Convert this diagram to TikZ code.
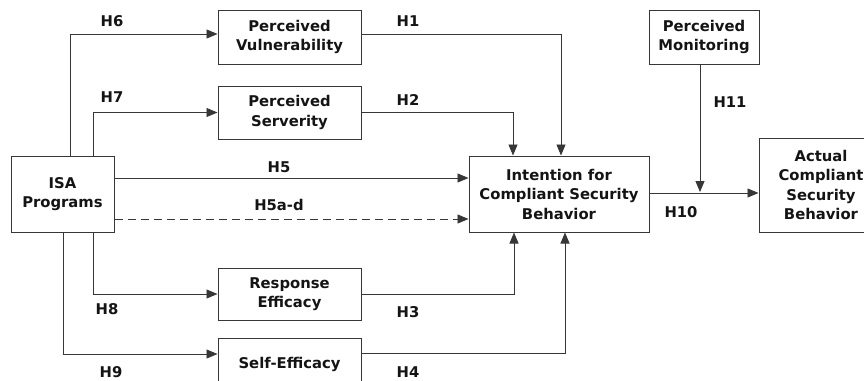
\documentclass[tikz,border=0pt]{standalone}
\usepackage{fontspec}
\setmainfont{DejaVu Sans}
\usetikzlibrary{arrows.meta}
\definecolor{linec}{RGB}{55,55,55}
\definecolor{textc}{RGB}{20,20,20}
\begin{document}
\begin{tikzpicture}[x=1pt,y=-1pt,
  box/.style={draw=linec, line width=1pt, fill=white, align=center, inner sep=2pt,
    font=\fontsize{14.8}{19.5}\selectfont\bfseries, text=textc},
  hyp/.style={font=\fontsize{14.8}{19.5}\selectfont\bfseries, text=textc, inner sep=0pt},
  arr/.style={draw=linec, line width=0.9pt, -{Triangle[length=11pt,width=9pt]}},
]
\useasboundingbox (0,0) rectangle (864,380);
\fill[white] (0,0) rectangle (864,380);

% constructs
\node[box, minimum width=103, minimum height=76] (isa) at (62.5,194) {ISA\\Programs};
\node[box, minimum width=143, minimum height=54] (pv) at (289.5,37) {Perceived\\Vulnerability};
\node[box, minimum width=143, minimum height=53] (ps) at (289.5,112.5) {Perceived\\Serverity};
\node[box, minimum width=143, minimum height=52] (re) at (289.5,294) {Response\\Efficacy};
\node[box, minimum width=143, minimum height=52] (se) at (289.5,364) {Self-Efficacy};
\node[box, minimum width=180, minimum height=76] (int) at (559,194) {Intention for\\Compliant Security\\Behavior};
\node[box, minimum width=110, minimum height=54] (pm) at (704,37) {Perceived\\Monitoring};
\node[box, minimum width=124, minimum height=94] (act) at (821,185) {Actual\\Compliant\\Security\\Behavior};

% paths from ISA programs
\draw[arr] ([xshift=7.5pt]isa.north) |- ([yshift=3pt]pv.west);
\draw[arr] ([xshift=30.5pt]isa.north) |- (ps.west);
\draw[arr] ([xshift=30.5pt]isa.south) |- (re.west);
\draw[arr] ([xshift=0.5pt]isa.south) |- ([yshift=10pt]se.west);
\draw[arr] ([yshift=16pt]isa.east) -- ([yshift=16pt]int.west);
\draw[arr, dash pattern=on 8pt off 5pt] ([yshift=-25pt]isa.east) -- ([yshift=-25pt]int.west);

% paths into intention
\draw[arr] ([yshift=3pt]pv.east) -| ([xshift=2pt]int.north);
\draw[arr] (ps.east) -| ([xshift=-46pt]int.north);
\draw[arr] (re.east) -| ([xshift=-45pt]int.south);
\draw[arr] ([yshift=11pt]se.east) -| ([xshift=6pt]int.south);

% intention to behaviour, moderated by monitoring
\draw[arr] ([yshift=1pt]int.east) -- ([yshift=-8pt]act.west);
\coordinate (h11end) at (700,192);
\draw[arr] (pm.south -| h11end) -- (h11end);

% hypothesis labels
\node[hyp] (h6) at (112,21) {H6};
\node[hyp] (h7) at (112,97) {H7};
\node[hyp] (h1) at (408,21) {H1};
\node[hyp] (h2) at (408,100) {H2};
\node[hyp] (h5) at (279,167) {H5};
\node[hyp] (h5ad) at (279,205) {H5a-d};
\node[hyp] (h8) at (107,309) {H8};
\node[hyp] (h9) at (111,372) {H9};
\node[hyp] (h3) at (408,312) {H3};
\node[hyp] (h4) at (408,372) {H4};
\node[hyp] (h10) at (681,212) {H10};
\node[hyp] (h11) at (730,102) {H11};
\end{tikzpicture}
\end{document}
